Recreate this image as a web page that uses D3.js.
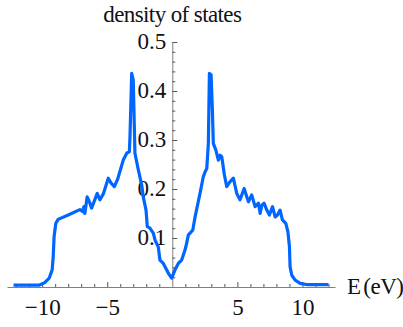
<!DOCTYPE html>
<html>
<head>
<meta charset="utf-8">
<script src="https://cdn.jsdelivr.net/npm/d3@7"></script>
<style>
  body { margin: 0; background: #fff; }
</style>
</head>
<body>
<div id="chart"></div>
<script>
// energy (eV) and density of states
const energy = [-12.2, -10.2, -9.8, -9.46, -9.23, -9.15, -9.08, -8.95, -8.77, -8.0, -7.1, -6.9, -6.79, -6.72,
  -6.54, -6.33, -6.2, -5.87, -5.77, -5.56, -5.3, -4.92, -4.7, -4.45, -4.2, -3.77, -3.5, -3.3, -3.25, -3.12,
  -3.0, -2.87, -2.61, -2.35, -2.23, -2.02, -1.92, -1.72, -1.46, -1.33, -1.08, -0.95, -0.69, -0.3, -0.05,
  0.21, 0.46, 0.72, 0.98, 1.1, 1.23, 1.36, 1.57, 1.75, 2.13, 2.38, 2.52, 2.65, 2.77, 2.85, 2.98, 3.08, 3.15,
  3.34, 3.54, 3.67, 3.8, 4.0, 4.18, 4.44, 4.69, 4.95, 5.2, 5.52, 5.72, 5.85, 6.1, 6.36, 6.62, 6.75, 6.88,
  7.05, 7.26, 7.46, 7.7, 7.9, 8.08, 8.28, 8.46, 8.72, 8.88, 9.0, 9.05, 9.18, 9.44, 9.82, 10.3, 12.0];
const dos = [0.004, 0.004, 0.009, 0.018, 0.035, 0.062, 0.103, 0.13, 0.138, 0.147, 0.158, 0.154, 0.164, 0.15,
  0.184, 0.171, 0.161, 0.184, 0.191, 0.178, 0.19, 0.222, 0.212, 0.205, 0.22, 0.259, 0.273, 0.276, 0.307, 0.436,
  0.422, 0.273, 0.239, 0.208, 0.184, 0.157, 0.123, 0.12, 0.11, 0.096, 0.082, 0.055, 0.048, 0.028, 0.018,
  0.035, 0.048, 0.055, 0.076, 0.089, 0.106, 0.11, 0.116, 0.143, 0.191, 0.225, 0.235, 0.242, 0.293, 0.436, 0.433, 0.361, 0.293,
  0.28, 0.259, 0.269, 0.266, 0.229, 0.205, 0.215, 0.222, 0.191, 0.178, 0.201, 0.184, 0.174, 0.188, 0.164, 0.171, 0.15, 0.167,
  0.171, 0.157, 0.147, 0.164, 0.143, 0.147, 0.157, 0.137, 0.13, 0.113, 0.082, 0.041, 0.024, 0.014, 0.0075, 0.005, 0.005];

const xTicks = [-10, -5, 5, 10];
const yTicks = [0.1, 0.2, 0.3, 0.4, 0.5];
const xMinor = d3.range(-12, 13, 1).filter(d => d % 5 !== 0);
const yMinor = d3.range(0.02, 0.5, 0.02).filter(d => Math.abs(d * 10 - Math.round(d * 10)) > 1e-6);

const W = 403, H = 327;
const axisColor = "#808080";
const serif = "'Liberation Serif', 'Times New Roman', serif";

const svg = d3.select("#chart").append("svg")
    .attr("width", W)
    .attr("height", H);

const x = d3.scaleLinear().domain([-12.7, 12.5]).range([7, 335]);
const y = d3.scaleLinear().domain([0, 0.5]).range([287, 42]);

// x axis (crosses at y = 0)
const gx = svg.append("g")
    .attr("transform", `translate(0,${y(0)})`)
    .call(d3.axisBottom(x).tickValues(xTicks).tickSizeInner(-5).tickSizeOuter(0).tickPadding(12)
        .tickFormat(d => d < 0 ? "\u2212" + Math.abs(d) : d));
gx.append("g")
    .call(d3.axisBottom(x).tickValues(xMinor).tickSizeInner(-3).tickSizeOuter(0).tickFormat(""))
    .select(".domain").remove();

// y axis (crosses at x = 0)
const gy = svg.append("g")
    .attr("transform", `translate(${x(0)},0)`)
    .call(d3.axisLeft(y).tickValues(yTicks).tickSizeInner(-5).tickSizeOuter(0).tickPadding(6)
        .tickFormat(d3.format(".1f")));
gy.append("g")
    .call(d3.axisLeft(y).tickValues(yMinor).tickSizeInner(-3).tickSizeOuter(0).tickFormat(""))
    .select(".domain").remove();

svg.selectAll("g").attr("font-family", serif).attr("font-size", 23);
svg.selectAll(".domain").attr("stroke", axisColor);
svg.selectAll(".tick line").attr("stroke", "#555");
svg.selectAll(".tick text").attr("fill", "#111");
gy.selectAll(".tick text").attr("dy", "0.3em");
gx.selectAll(".tick text").attr("dy", "0.68em");

// curve
const line = d3.line()
    .x((d, i) => x(energy[i]))
    .y(d => y(d));

svg.append("path")
    .datum(dos)
    .attr("d", line)
    .attr("fill", "none")
    .attr("stroke", "#0066ff")
    .attr("stroke-width", 3.2)
    .attr("stroke-linejoin", "round");

// axis labels
svg.append("text")
    .attr("x", x(0))
    .attr("y", 22)
    .attr("text-anchor", "middle")
    .attr("font-family", serif)
    .attr("font-size", 23)
    .attr("fill", "#111")
    .style("letter-spacing", "-0.6px")
    .text("density of states");

svg.append("text")
    .attr("x", 347)
    .attr("y", 294)
    .attr("font-family", serif)
    .attr("font-size", 23)
    .attr("fill", "#111")
    .style("letter-spacing", "-0.5px")
    .style("word-spacing", "-2.5px")
    .text("E (eV)");
</script>
</body>
</html>
